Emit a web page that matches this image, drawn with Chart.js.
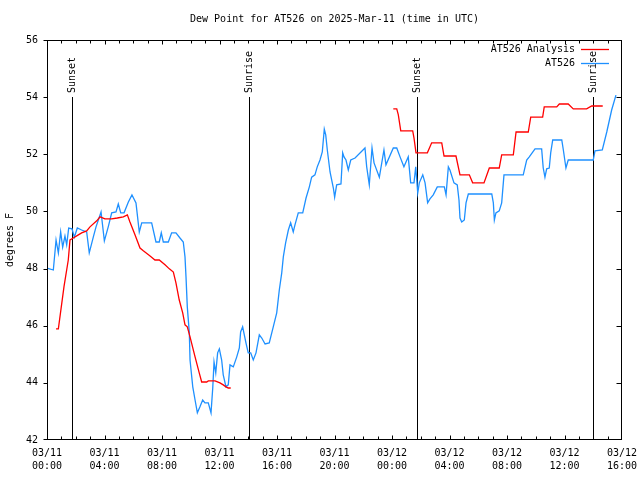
<!DOCTYPE html>
<html>
<head>
<meta charset="utf-8">
<script src="https://cdn.jsdelivr.net/npm/chart.js@4.4.1/dist/chart.umd.min.js"></script>
<style>
  html, body { margin: 0; padding: 0; background: #fff; }
  canvas { display: block; }
</style>
</head>
<body>
<canvas id="chart" width="640" height="480"></canvas>
<script>
// hours since 03/11 00:00 UTC
const blueHours = [0, 0.44, 0.63, 0.79, 0.95, 1.09, 1.25, 1.37, 1.51, 1.74,
  1.90, 2.11, 2.41, 2.76, 2.94, 3.22, 3.41, 3.76, 3.99, 4.26,
  4.50, 4.80, 4.96, 5.13, 5.36, 5.66, 5.91, 6.19, 6.42, 6.59,
  7.28, 7.58, 7.81, 7.95, 8.09, 8.44, 8.67, 8.97, 9.25, 9.48,
  9.60, 9.67, 9.76, 9.90, 9.95, 10.14, 10.30, 10.46, 10.64, 10.83,
  10.99, 11.22, 11.41, 11.53, 11.62, 11.74, 11.87, 11.99, 12.15, 12.26,
  12.45, 12.61, 12.73, 12.96, 13.20, 13.38, 13.47, 13.61, 13.84, 14.00,
  14.17, 14.35, 14.54, 14.77, 14.94, 15.17, 15.46, 15.74, 15.98, 16.16,
  16.33, 16.44, 16.60, 16.79, 16.95, 17.13, 17.25, 17.48, 17.79, 18.02,
  18.25, 18.41, 18.64, 18.80, 18.99, 19.15, 19.29, 19.39, 19.50, 19.69,
  19.92, 20.01, 20.15, 20.45, 20.57, 20.66, 20.80, 20.96, 21.13, 21.43,
  22.12, 22.24, 22.42, 22.61, 22.75, 23.12, 23.44, 23.58, 24.09, 24.33,
  24.56, 24.83, 25.13, 25.30, 25.53, 25.65, 25.79, 25.90, 26.14, 26.30,
  26.48, 26.64, 26.87, 27.15, 27.64, 27.76, 27.92, 28.03, 28.31, 28.54,
  28.66, 28.73, 28.85, 29.03, 29.15, 29.31, 30.94, 31.05, 31.12, 31.23,
  31.46, 31.63, 31.79, 33.13, 33.37, 33.55, 33.95, 34.41, 34.52, 34.64,
  34.76, 34.94, 35.04, 35.18, 35.81, 35.92, 36.10, 36.26, 38.00, 38.12,
  38.63, 38.94, 39.28, 39.58];
const blueValues = [48.02, 47.95, 49.00, 48.55, 49.28, 48.75, 49.14, 48.83, 49.42, 49.39,
  49.10, 49.42, 49.35, 49.28, 48.55, 49.10, 49.46, 49.98, 48.97, 49.46,
  49.95, 49.98, 50.26, 49.95, 49.95, 50.33, 50.58, 50.30, 49.28, 49.60,
  49.60, 48.93, 48.93, 49.25, 48.93, 48.93, 49.25, 49.25, 49.07, 48.93,
  48.41, 47.71, 46.66, 45.75, 44.80, 43.86, 43.40, 42.95, 43.16, 43.40,
  43.30, 43.30, 42.95, 43.82, 44.73, 44.35, 45.05, 45.19, 44.80, 44.28,
  43.86, 43.93, 44.63, 44.56, 44.91, 45.22, 45.78, 45.96, 45.40, 45.05,
  45.05, 44.80, 45.05, 45.68, 45.57, 45.36, 45.40, 45.96, 46.45, 47.25,
  47.85, 48.41, 48.90, 49.35, 49.60, 49.28, 49.53, 49.95, 49.95, 50.47,
  50.86, 51.20, 51.28, 51.56, 51.80, 52.08, 52.88, 52.68, 52.15, 51.38,
  50.82, 50.50, 50.93, 50.96, 52.05, 51.91, 51.80, 51.45, 51.80, 51.87,
  52.22, 51.56, 50.93, 52.22, 51.70, 51.20, 52.15, 51.63, 52.22, 52.22,
  51.91, 51.56, 51.91, 51.00, 51.00, 51.56, 50.65, 51.00, 51.28, 51.00,
  50.30, 50.44, 50.58, 50.86, 50.86, 50.58, 51.56, 51.45, 51.00, 50.93,
  50.40, 49.77, 49.63, 49.70, 50.30, 50.61, 50.61, 50.30, 49.70, 49.95,
  50.02, 50.30, 51.28, 51.28, 51.80, 51.91, 52.19, 52.19, 51.52, 51.20,
  51.49, 51.52, 52.05, 52.50, 52.50, 52.15, 51.52, 51.80, 51.80, 52.12,
  52.15, 52.78, 53.55, 54.07];

// analysis: two runs, null = gap
const redHours = [0.63, 0.79, 1.18, 1.48, 1.60, 1.83, 2.18, 2.41, 2.76, 2.99,
  3.46, 3.69, 4.03, 4.50, 4.89, 5.31, 5.59, 5.77, 6.12, 6.47,
  6.70, 7.17, 7.51, 7.81, 8.21, 8.51, 8.79, 8.97, 9.20, 9.44,
  9.60, 9.76, 9.95, 10.30, 10.59, 10.76, 11.11, 11.22, 11.69, 12.03,
  12.26, 12.45, 12.61, 12.78,
  18.00,
  24.09, 24.33, 24.44, 24.61, 24.68, 25.44, 25.53, 25.67, 26.46, 26.76,
  27.46, 27.62, 28.45, 28.73, 29.38, 29.61, 30.40, 30.77, 31.46, 31.63,
  32.44, 32.63, 33.48, 33.65, 34.48, 34.59, 35.46, 35.64, 36.26, 36.61,
  37.54, 37.89, 38.66];
const redValues = [45.89, 45.89, 47.36, 48.30, 49.00, 49.07, 49.18, 49.25, 49.32, 49.46,
  49.67, 49.81, 49.74, 49.74, 49.77, 49.81, 49.88, 49.63, 49.18, 48.72,
  48.62, 48.44, 48.30, 48.30, 48.13, 47.99, 47.88, 47.50, 46.90, 46.45,
  46.03, 45.96, 45.61, 44.91, 44.35, 44.03, 44.03, 44.07, 44.07, 44.00,
  43.93, 43.86, 43.82, 43.82,
  null,
  53.59, 53.59, 53.38, 52.82, 52.82, 52.82, 52.57, 52.05, 52.05, 52.40,
  52.40, 51.94, 51.94, 51.28, 51.28, 51.00, 51.00, 51.52, 51.52, 51.98,
  51.98, 52.78, 52.78, 53.30, 53.30, 53.66, 53.66, 53.76, 53.76, 53.59,
  53.59, 53.69, 53.69];

const eventHours = [1.74, 14.05, 25.74, 37.98];
const eventLabels = ['Sunset', 'Sunrise', 'Sunset', 'Sunrise'];

const xTickDates = ['03/11', '03/11', '03/11', '03/11', '03/11', '03/11', '03/12', '03/12', '03/12', '03/12', '03/12'];
const xTickTimes = ['00:00', '04:00', '08:00', '12:00', '16:00', '20:00', '00:00', '04:00', '08:00', '12:00', '16:00'];

const RED = '#ff0000';
const BLUE = '#1e90ff';
const FONT = "'DejaVu Sans Mono', monospace";

const toPts = (xs, ys) => xs.map((h, i) => ({ x: h, y: ys[i] }));

const decor = {
  id: 'decor',
  beforeDatasetsDraw(chart) {
    const { ctx, chartArea: a, scales: { x } } = chart;
    ctx.save();
    ctx.strokeStyle = '#000';
    ctx.fillStyle = '#000';
    ctx.lineWidth = 1;
    ctx.font = '10px ' + FONT;
    eventHours.forEach((h, i) => {
      const px = Math.round(x.getPixelForValue(h)) + 0.5;
      ctx.beginPath();
      ctx.moveTo(px, a.top + 57);
      ctx.lineTo(px, a.bottom);
      ctx.stroke();
      ctx.save();
      ctx.translate(px, a.top + 53);
      ctx.rotate(-Math.PI / 2);
      ctx.textAlign = 'left';
      ctx.textBaseline = 'middle';
      ctx.fillText(eventLabels[i], 0, 0);
      ctx.restore();
    });
    ctx.restore();
  },
  afterDraw(chart) {
    const { ctx, chartArea: a, scales: { x, y } } = chart;
    ctx.save();
    ctx.strokeStyle = '#000';
    ctx.lineWidth = 1;
    const L = Math.round(a.left) + 0.5, R = Math.round(a.right) - 0.5;
    const T = Math.round(a.top) + 0.5, B = Math.round(a.bottom) - 0.5;
    ctx.strokeRect(L, T, R - L, B - T);
    ctx.beginPath();
    // hourly ticks on top and bottom, pointing in
    for (let h = 1; h < 40; h++) {
      const px = Math.round(x.getPixelForValue(h)) + 0.5;
      const len = h % 4 === 0 ? 4 : 3;
      ctx.moveTo(px, B); ctx.lineTo(px, B - len);
      ctx.moveTo(px, T); ctx.lineTo(px, T + len);
    }
    // y ticks: outward on the left, inward on the right
    for (let v = 44; v <= 54; v += 2) {
      const py = Math.round(y.getPixelForValue(v)) + 0.5;
      ctx.moveTo(L - 4, py); ctx.lineTo(L, py);
      ctx.moveTo(R - 5, py); ctx.lineTo(R, py);
    }
    ctx.moveTo(L - 4, T); ctx.lineTo(L, T);
    ctx.moveTo(L - 4, B); ctx.lineTo(L, B);
    ctx.stroke();

    // legend
    ctx.font = '10px ' + FONT;
    ctx.fillStyle = '#000';
    ctx.textAlign = 'right';
    ctx.textBaseline = 'middle';
    ctx.lineWidth = 1.3;
    const rows = [['AT526 Analysis', RED], ['AT526', BLUE]];
    rows.forEach(([txt, col], i) => {
      const ty = Math.round(a.top) + 9.5 + i * 14;
      ctx.fillText(txt, a.right - 47, ty);
      ctx.strokeStyle = col;
      ctx.beginPath();
      ctx.moveTo(a.right - 41, ty);
      ctx.lineTo(a.right - 13, ty);
      ctx.stroke();
    });
    ctx.restore();
  }
};

new Chart(document.getElementById('chart'), {
  type: 'line',
  data: {
    datasets: [
      {
        label: 'AT526 Analysis',
        data: toPts(redHours, redValues),
        borderColor: RED,
        borderWidth: 1.3,
        pointRadius: 0,
        tension: 0,
        spanGaps: false
      },
      {
        label: 'AT526',
        data: toPts(blueHours, blueValues),
        borderColor: BLUE,
        borderWidth: 1.3,
        pointRadius: 0,
        tension: 0
      }
    ]
  },
  options: {
    responsive: false,
    devicePixelRatio: 1,
    animation: false,
    layout: { padding: { top: 0, right: 18, left: 0, bottom: 0 } },
    plugins: {
      legend: { display: false },
      tooltip: { enabled: false },
      title: {
        display: true,
        fullSize: false,
        text: 'Dew Point for AT526 on 2025-Mar-11 (time in UTC)',
        color: '#000',
        font: { family: FONT, size: 10, weight: 'normal' },
        padding: { top: 13, bottom: 15 }
      }
    },
    scales: {
      x: {
        type: 'linear',
        min: 0,
        max: 40,
        grid: { display: false, drawTicks: false },
        border: { display: false },
        ticks: {
          stepSize: 4,
          autoSkip: false,
          maxRotation: 0,
          padding: 7,
          color: '#000',
          font: { family: FONT, size: 10, lineHeight: 1.3 },
          callback: (v, i) => [xTickDates[i], xTickTimes[i]]
        },
        afterFit: s => { s.height = 40; s.paddingLeft = 0; s.paddingRight = 0; }
      },
      y: {
        min: 42,
        max: 56,
        grid: { display: false, drawTicks: false },
        border: { display: false },
        ticks: {
          stepSize: 2,
          padding: 9,
          color: '#000',
          font: { family: FONT, size: 10 }
        },
        title: {
          display: true,
          text: 'degrees F',
          color: '#000',
          font: { family: FONT, size: 10 },
          padding: { top: 4, bottom: 0 }
        },
        afterFit: s => { s.width = 47; }
      }
    }
  },
  plugins: [decor]
});
</script>
</body>
</html>
